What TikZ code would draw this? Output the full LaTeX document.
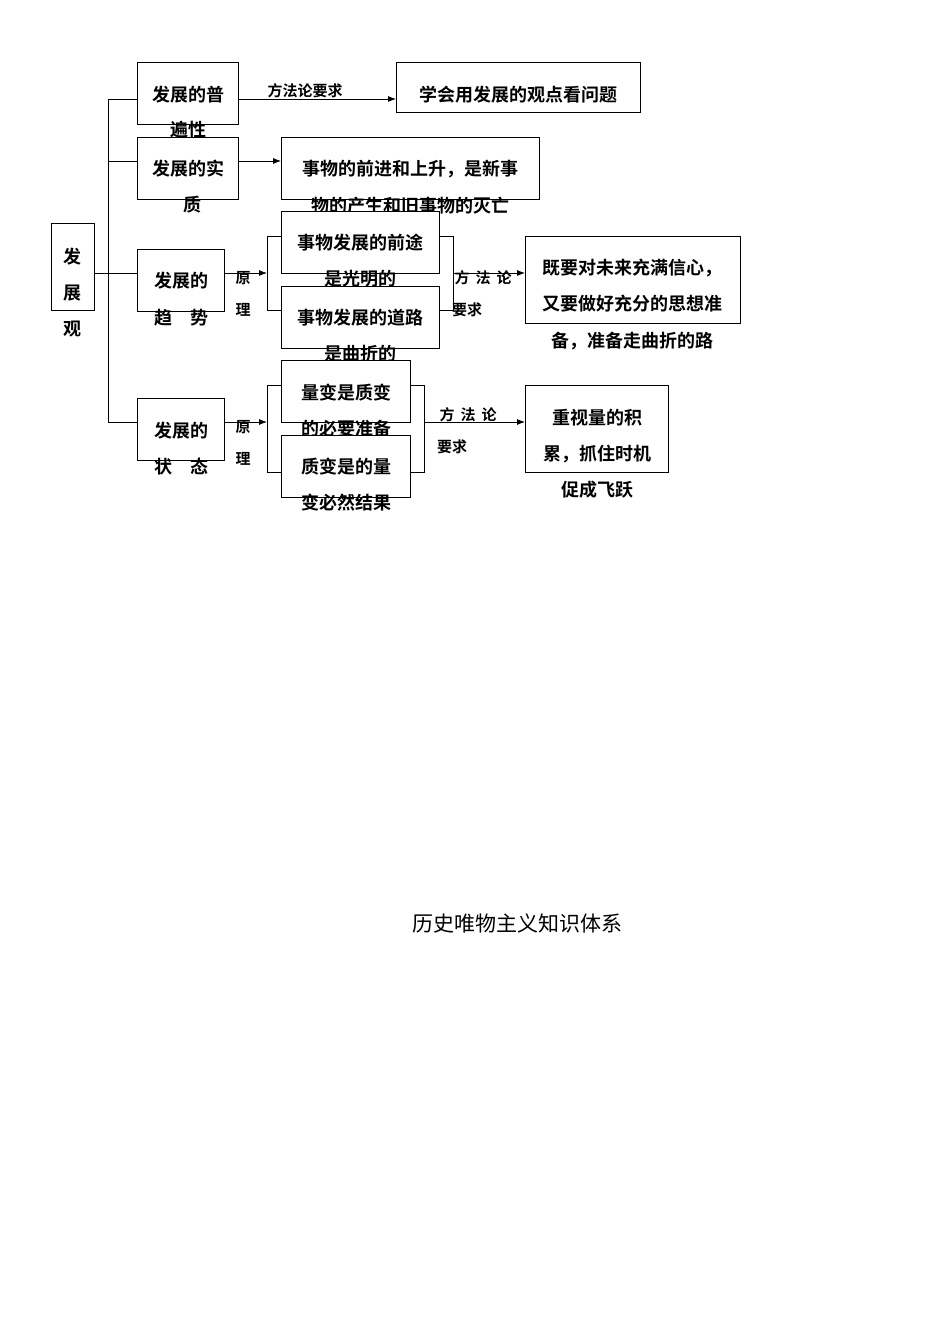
\documentclass[tikz,border=0pt]{standalone}
\usepackage{fontspec}
\newfontfamily\cjk{Noto Sans CJK SC}[BoldFont={* Bold}]
\usetikzlibrary{arrows.meta}
\begin{document}
\begin{tikzpicture}[x=1pt,y=-1pt,
  bx/.style={draw,line width=0.8pt,inner sep=0pt,anchor=north west},
  tx/.style={font=\cjk\bfseries\fontsize{18}{18}\selectfont,inner sep=0pt},
  lb/.style={font=\cjk\bfseries\fontsize{15}{15}\selectfont,inner sep=0pt},
  ln/.style={line width=0.8pt},
  ar/.style={line width=0.8pt,-{Latex[length=8pt,width=6pt]}}]
\useasboundingbox (0,0) rectangle (950,1344);
% boxes
\node[bx,minimum width=43,minimum height=87] (root) at (51,223) {};
\node[bx,minimum width=101,minimum height=62] (b1) at (137,62) {};
\node[bx,minimum width=101,minimum height=62] (b2) at (137,137) {};
\node[bx,minimum width=87,minimum height=62] (b3) at (137,249) {};
\node[bx,minimum width=87,minimum height=62] (b4) at (137,398) {};
\node[bx,minimum width=244,minimum height=50] (b5) at (396,62) {};
\node[bx,minimum width=258,minimum height=62] (b6) at (281,137) {};
\node[tx] at (410,206) {物的产生和旧事物的灭亡};
\node[bx,fill=white,minimum width=158,minimum height=62] (b7) at (281,211) {};
\node[tx] at (360,279) {是光明的};
\node[bx,fill=white,minimum width=158,minimum height=62] (b8) at (281,286) {};
\node[bx,minimum width=215,minimum height=87] (b9) at (525,236) {};
\node[tx] at (360,354) {是曲折的};
\node[bx,fill=white,minimum width=129,minimum height=62] (b10) at (281,360) {};
\node[tx] at (346,429) {的必要准备};
\node[bx,fill=white,minimum width=129,minimum height=62] (b11) at (281,435) {};
\node[bx,minimum width=143,minimum height=87] (b12) at (525,385) {};
% texts
\node[tx] at (72,257) {发};
\node[tx] at (72,293) {展};
\node[tx] at (72,329) {观};
\node[tx] at (188,95) {发展的普};
\node[tx] at (188,130) {遍性};
\node[tx] at (188,169) {发展的实};
\node[tx] at (192,205) {质};
\node[tx] at (181,281) {发展的};
\node[tx] at (181,318) {趋\hspace{18pt}势};
\node[tx] at (181,431) {发展的};
\node[tx] at (181,467) {状\hspace{18pt}态};
\node[tx] at (518,95) {学会用发展的观点看问题};
\node[tx] at (410,169) {事物的前进和上升，是新事};
\node[tx] at (360,243) {事物发展的前途};
\node[tx] at (360,318) {事物发展的道路};
\node[tx] at (346,393) {量变是质变};
\node[tx] at (346,467) {质变是的量};
\node[tx] at (346,503) {变必然结果};
\node[tx] at (632,268) {既要对未来充满信心，};
\node[tx] at (632,304) {又要做好充分的思想准};
\node[tx] at (632,341) {备，准备走曲折的路};
\node[tx] at (597,418) {重视量的积};
\node[tx] at (597,454) {累，抓住时机};
\node[tx] at (597,490) {促成飞跃};
% labels
\node[lb] at (305,91) {方法论要求};
\node[lb] at (243,278) {原};
\node[lb] at (243,310) {理};
\node[lb] at (243,427) {原};
\node[lb] at (243,459) {理};
\node[lb] at (483,278) {方\hspace{6pt}法\hspace{6pt}论};
\node[lb] at (467,310) {要求};
\node[lb] at (468,415) {方\hspace{6pt}法\hspace{6pt}论};
\node[lb] at (452,447) {要求};
\node[font=\cjk\fontsize{21}{21}\selectfont] (title) at (517,923) {历史唯物主义知识体系};
% connectors
\coordinate (s1) at (108,99);
\coordinate (s4) at (108,422);
\coordinate (sr) at (108,273);
\draw[ln] (root.east |- sr) -- (sr);
\draw[ln] (s1) -- (s4);
\draw[ln] (s1) -- (b1.west |- s1);
\draw[ln] (108,161) -- (b2.west |- 0,161);
\draw[ln] (sr) -- (b3.west |- sr);
\draw[ln] (s4) -- (b4.west |- s4);
\draw[ar] (b1.east |- s1) -- (b5.west |- s1);
\draw[ar] (b2.east |- 0,161) -- (b6.west |- 0,161);
% trend bracket
\coordinate (lt) at (267,273);
\draw[ar] (b3.east |- lt) -- (lt);
\draw[ln] (b7.west |- 0,236) -- (267,236) -- (267,310) -- (b8.west |- 0,310);
\draw[ln] (b7.east |- 0,236) -- (453,236) -- (453,310) -- (b8.east |- 0,310);
\draw[ar] (453,273) -- (b9.west |- 0,273);
% state bracket
\coordinate (ls) at (267,422);
\draw[ar] (b4.east |- ls) -- (ls);
\draw[ln] (b10.west |- 0,385) -- (267,385) -- (267,472) -- (b11.west |- 0,472);
\draw[ln] (b10.east |- 0,385) -- (424,385) -- (424,472) -- (b11.east |- 0,472);
\draw[ar] (424,422) -- (b12.west |- 0,422);
\end{tikzpicture}
\end{document}
